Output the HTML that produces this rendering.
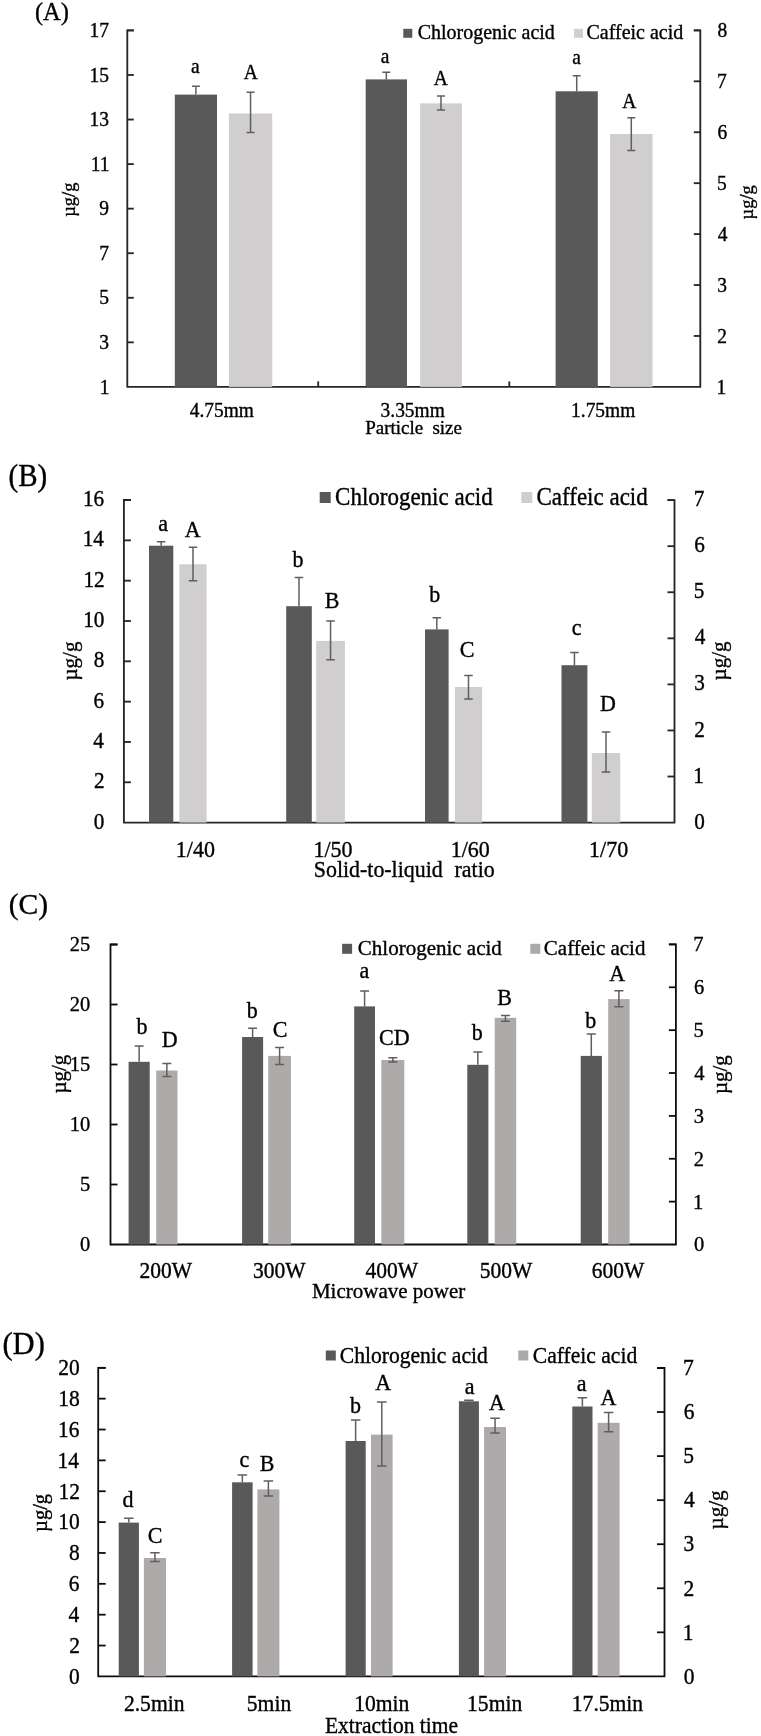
<!DOCTYPE html>
<html><head><meta charset="utf-8"><style>
html,body{margin:0;padding:0;background:#fff;}
body{width:761px;height:1736px;overflow:hidden;}
svg{display:block;font-family:"Liberation Serif", serif;will-change:transform;}
text{stroke:#000;stroke-width:0.35px;}
</style></head><body>
<svg width="761" height="1736" viewBox="0 0 761 1736">
<rect width="761" height="1736" fill="#fff"/>
<path d="M133.8 30.42 H127.3 V386.9 H700.3 V30.39 H693.8" stroke="#262626" stroke-width="1.85" fill="none"/>
<line x1="127.3" y1="30.42" x2="133.8" y2="30.42" stroke="#262626" stroke-width="1.85"/>
<text transform="translate(99.67 30.42) scale(1 1.03)" x="-10.29" y="6.44" font-size="19.5" fill="#000">17</text>
<line x1="127.3" y1="74.98" x2="133.8" y2="74.98" stroke="#262626" stroke-width="1.85"/>
<text transform="translate(99.77 74.98) scale(1 1.03)" x="-10.19" y="6.34" font-size="19.5" fill="#000">15</text>
<line x1="127.3" y1="119.54" x2="133.8" y2="119.54" stroke="#262626" stroke-width="1.85"/>
<text transform="translate(99.77 119.54) scale(1 1.03)" x="-10.19" y="6.34" font-size="19.5" fill="#000">13</text>
<line x1="127.3" y1="164.1" x2="133.8" y2="164.1" stroke="#262626" stroke-width="1.85"/>
<text transform="translate(100.3 164.1) scale(1 1.03)" x="-9.65" y="6.44" font-size="19.5" fill="#000">11</text>
<line x1="127.3" y1="208.66" x2="133.8" y2="208.66" stroke="#262626" stroke-width="1.85"/>
<text transform="translate(104.11 208.66) scale(1 1.03)" x="-4.78" y="6.34" font-size="19.5" fill="#000">9</text>
<line x1="127.3" y1="253.22" x2="133.8" y2="253.22" stroke="#262626" stroke-width="1.85"/>
<text transform="translate(104.35 253.22) scale(1 1.03)" x="-5.22" y="6.39" font-size="19.5" fill="#000">7</text>
<line x1="127.3" y1="297.78" x2="133.8" y2="297.78" stroke="#262626" stroke-width="1.85"/>
<text transform="translate(104.4 297.78) scale(1 1.03)" x="-5.07" y="6.29" font-size="19.5" fill="#000">5</text>
<line x1="127.3" y1="342.34" x2="133.8" y2="342.34" stroke="#262626" stroke-width="1.85"/>
<text transform="translate(104.25 342.34) scale(1 1.03)" x="-4.92" y="6.34" font-size="19.5" fill="#000">3</text>
<text transform="translate(104.84 386.9) scale(1 1.03)" x="-5.12" y="6.44" font-size="19.5" fill="#000">1</text>
<line x1="693.8" y1="30.39" x2="700.3" y2="30.39" stroke="#262626" stroke-width="1.85"/>
<text transform="translate(722.3 30.39) scale(1 1.03)" x="-4.88" y="6.39" font-size="19.5" fill="#000">8</text>
<line x1="693.8" y1="81.32" x2="700.3" y2="81.32" stroke="#262626" stroke-width="1.85"/>
<text transform="translate(722.15 81.32) scale(1 1.03)" x="-5.22" y="6.39" font-size="19.5" fill="#000">7</text>
<line x1="693.8" y1="132.25" x2="700.3" y2="132.25" stroke="#262626" stroke-width="1.85"/>
<text transform="translate(722.39 132.25) scale(1 1.03)" x="-4.97" y="6.34" font-size="19.5" fill="#000">6</text>
<line x1="693.8" y1="183.18" x2="700.3" y2="183.18" stroke="#262626" stroke-width="1.85"/>
<text transform="translate(722.1 183.18) scale(1 1.03)" x="-5.07" y="6.29" font-size="19.5" fill="#000">5</text>
<line x1="693.8" y1="234.11" x2="700.3" y2="234.11" stroke="#262626" stroke-width="1.85"/>
<text transform="translate(722.73 234.11) scale(1 1.03)" x="-4.92" y="6.44" font-size="19.5" fill="#000">4</text>
<line x1="693.8" y1="285.04" x2="700.3" y2="285.04" stroke="#262626" stroke-width="1.85"/>
<text transform="translate(722.25 285.04) scale(1 1.03)" x="-4.92" y="6.34" font-size="19.5" fill="#000">3</text>
<line x1="693.8" y1="335.97" x2="700.3" y2="335.97" stroke="#262626" stroke-width="1.85"/>
<text transform="translate(722.1 335.97) scale(1 1.03)" x="-4.78" y="6.44" font-size="19.5" fill="#000">2</text>
<text transform="translate(721.66 386.9) scale(1 1.03)" x="-5.12" y="6.44" font-size="19.5" fill="#000">1</text>
<line x1="318.2" y1="386.9" x2="318.2" y2="381.4" stroke="#262626" stroke-width="1.85"/>
<line x1="509.3" y1="386.9" x2="509.3" y2="381.4" stroke="#262626" stroke-width="1.85"/>
<rect x="174.8" y="94.6" width="42.2" height="292.3" fill="#595959"/>
<rect x="228.9" y="113.5" width="43.3" height="273.4" fill="#d0cece"/>
<path d="M195.9 94.6 V86.3 M191.9 86.3 H199.9" stroke="#5f5f5f" stroke-width="1.5" fill="none"/>
<path d="M246.55 92.3 H254.55 M250.55 92.3 V132.5 M246.55 132.5 H254.55" stroke="#5f5f5f" stroke-width="1.5" fill="none"/>
<rect x="365.7" y="79.4" width="41.3" height="307.5" fill="#595959"/>
<rect x="420.1" y="103.4" width="41.8" height="283.5" fill="#d0cece"/>
<path d="M386.35 79.4 V72.3 M382.35 72.3 H390.35" stroke="#5f5f5f" stroke-width="1.5" fill="none"/>
<path d="M437 96 H445 M441 96 V109.9 M437 109.9 H445" stroke="#5f5f5f" stroke-width="1.5" fill="none"/>
<rect x="555.6" y="91.3" width="42.2" height="295.6" fill="#595959"/>
<rect x="610.1" y="134" width="42.4" height="252.9" fill="#d0cece"/>
<path d="M576.7 91.3 V75.7 M572.7 75.7 H580.7" stroke="#5f5f5f" stroke-width="1.5" fill="none"/>
<path d="M627.3 117.8 H635.3 M631.3 117.8 V150.4 M627.3 150.4 H635.3" stroke="#5f5f5f" stroke-width="1.5" fill="none"/>
<text transform="translate(195.45 68.15) scale(1 1.03)" x="-4.53" y="4.48" font-size="19.5" fill="#000">a</text>
<text transform="translate(250.9 72.25) scale(1 1.03)" x="-7.07" y="6.44" font-size="19.5" fill="#000">A</text>
<text transform="translate(385.2 58.15) scale(1 1.03)" x="-4.53" y="4.48" font-size="19.5" fill="#000">a</text>
<text transform="translate(440.75 78.6) scale(1 1.03)" x="-7.07" y="6.44" font-size="19.5" fill="#000">A</text>
<text transform="translate(576.7 59.45) scale(1 1.03)" x="-4.53" y="4.48" font-size="19.5" fill="#000">a</text>
<text transform="translate(629.2 101.6) scale(1 1.03)" x="-7.07" y="6.44" font-size="19.5" fill="#000">A</text>
<rect x="403.3" y="28.8" width="9" height="9" fill="#595959"/>
<rect x="574" y="28.8" width="9" height="9" fill="#d0cece"/>
<text transform="translate(417.7 39) scale(1 1.03)" x="0" y="0" font-size="20" fill="#000">Chlorogenic acid</text>
<text transform="translate(586.5 39) scale(1 1.03)" x="0" y="0" font-size="20" fill="#000">Caffeic acid</text>
<text transform="translate(221.85 410.25) scale(1 1.03)" x="-32.16" y="6.26" font-size="19.4" fill="#000">4.75mm</text>
<text transform="translate(413 410.25) scale(1 1.03)" x="-32.4" y="6.26" font-size="19.4" fill="#000">3.35mm</text>
<text transform="translate(603.9 410.45) scale(1 1.03)" x="-32.79" y="6.26" font-size="19.4" fill="#000">1.75mm</text>
<text transform="translate(365.23 434.2) scale(1 1.03)" x="0" y="0" font-size="19" fill="#000">Particle</text>
<text transform="translate(432.44 434.2) scale(1 1.03)" x="0" y="0" font-size="19" fill="#000">size</text>
<text transform="translate(51.9 14.15) scale(1 1.03)" x="-17.03" y="5.88" font-size="24.5" fill="#000">(A)</text>
<text transform="translate(70.8 199.6) rotate(-90)" x="-17.25" y="4.12" font-size="18.5" fill="#000">µg/g</text>
<text transform="translate(749.2 202.2) rotate(-90)" x="-17.25" y="4.12" font-size="18.5" fill="#000">µg/g</text>
<path d="M130.9 500.04 H123.9 V822.6 H674.5 V500.11 H667.5" stroke="#262626" stroke-width="1.85" fill="none"/>
<line x1="123.9" y1="500.04" x2="130.9" y2="500.04" stroke="#262626" stroke-width="1.85"/>
<text transform="translate(94.12 498.54) scale(1 1.08)" x="-11.18" y="6.89" font-size="21.2" fill="#000">16</text>
<line x1="123.9" y1="540.36" x2="130.9" y2="540.36" stroke="#262626" stroke-width="1.85"/>
<text transform="translate(93.96 538.86) scale(1 1.08)" x="-11.34" y="7" font-size="21.2" fill="#000">14</text>
<line x1="123.9" y1="580.68" x2="130.9" y2="580.68" stroke="#262626" stroke-width="1.85"/>
<text transform="translate(94.38 579.18) scale(1 1.08)" x="-10.92" y="7" font-size="21.2" fill="#000">12</text>
<line x1="123.9" y1="621" x2="130.9" y2="621" stroke="#262626" stroke-width="1.85"/>
<text transform="translate(94.22 619.5) scale(1 1.08)" x="-11.08" y="6.94" font-size="21.2" fill="#000">10</text>
<line x1="123.9" y1="661.32" x2="130.9" y2="661.32" stroke="#262626" stroke-width="1.85"/>
<text transform="translate(99.05 659.82) scale(1 1.08)" x="-5.3" y="6.94" font-size="21.2" fill="#000">8</text>
<line x1="123.9" y1="701.64" x2="130.9" y2="701.64" stroke="#262626" stroke-width="1.85"/>
<text transform="translate(98.94 700.14) scale(1 1.08)" x="-5.41" y="6.89" font-size="21.2" fill="#000">6</text>
<line x1="123.9" y1="741.96" x2="130.9" y2="741.96" stroke="#262626" stroke-width="1.85"/>
<text transform="translate(98.57 740.46) scale(1 1.08)" x="-5.35" y="7" font-size="21.2" fill="#000">4</text>
<line x1="123.9" y1="782.28" x2="130.9" y2="782.28" stroke="#262626" stroke-width="1.85"/>
<text transform="translate(99.26 780.78) scale(1 1.08)" x="-5.19" y="7" font-size="21.2" fill="#000">2</text>
<text transform="translate(99.05 821.1) scale(1 1.08)" x="-5.3" y="6.94" font-size="21.2" fill="#000">0</text>
<line x1="667.5" y1="500.11" x2="674.5" y2="500.11" stroke="#262626" stroke-width="1.85"/>
<text transform="translate(699.39 498.61) scale(1 1.08)" x="-5.67" y="6.94" font-size="21.2" fill="#000">7</text>
<line x1="667.5" y1="546.18" x2="674.5" y2="546.18" stroke="#262626" stroke-width="1.85"/>
<text transform="translate(699.66 544.68) scale(1 1.08)" x="-5.41" y="6.89" font-size="21.2" fill="#000">6</text>
<line x1="667.5" y1="592.25" x2="674.5" y2="592.25" stroke="#262626" stroke-width="1.85"/>
<text transform="translate(699.34 590.75) scale(1 1.08)" x="-5.51" y="6.84" font-size="21.2" fill="#000">5</text>
<line x1="667.5" y1="638.32" x2="674.5" y2="638.32" stroke="#262626" stroke-width="1.85"/>
<text transform="translate(700.03 636.82) scale(1 1.08)" x="-5.35" y="7" font-size="21.2" fill="#000">4</text>
<line x1="667.5" y1="684.39" x2="674.5" y2="684.39" stroke="#262626" stroke-width="1.85"/>
<text transform="translate(699.5 682.89) scale(1 1.08)" x="-5.35" y="6.89" font-size="21.2" fill="#000">3</text>
<line x1="667.5" y1="730.46" x2="674.5" y2="730.46" stroke="#262626" stroke-width="1.85"/>
<text transform="translate(699.34 728.96) scale(1 1.08)" x="-5.19" y="7" font-size="21.2" fill="#000">2</text>
<line x1="667.5" y1="776.53" x2="674.5" y2="776.53" stroke="#262626" stroke-width="1.85"/>
<text transform="translate(698.86 775.03) scale(1 1.08)" x="-5.57" y="7" font-size="21.2" fill="#000">1</text>
<text transform="translate(699.55 821.1) scale(1 1.08)" x="-5.3" y="6.94" font-size="21.2" fill="#000">0</text>
<rect x="149" y="545.7" width="24.3" height="276.9" fill="#595959"/>
<rect x="179.4" y="564.3" width="27.2" height="258.3" fill="#d0cece"/>
<path d="M161.15 545.7 V541.8 M156.9 541.8 H165.4" stroke="#5f5f5f" stroke-width="1.5" fill="none"/>
<path d="M188.75 547.3 H197.25 M193 547.3 V580.7 M188.75 580.7 H197.25" stroke="#5f5f5f" stroke-width="1.5" fill="none"/>
<rect x="286.2" y="606.2" width="25.6" height="216.4" fill="#595959"/>
<rect x="316.2" y="640.9" width="28.7" height="181.7" fill="#d0cece"/>
<path d="M299 606.2 V577.5 M294.75 577.5 H303.25" stroke="#5f5f5f" stroke-width="1.5" fill="none"/>
<path d="M326.3 621 H334.8 M330.55 621 V659.8 M326.3 659.8 H334.8" stroke="#5f5f5f" stroke-width="1.5" fill="none"/>
<rect x="425" y="629.4" width="23.6" height="193.2" fill="#595959"/>
<rect x="454.9" y="687" width="27.2" height="135.6" fill="#d0cece"/>
<path d="M436.8 629.4 V617.8 M432.55 617.8 H441.05" stroke="#5f5f5f" stroke-width="1.5" fill="none"/>
<path d="M464.25 675.6 H472.75 M468.5 675.6 V699 M464.25 699 H472.75" stroke="#5f5f5f" stroke-width="1.5" fill="none"/>
<rect x="561.5" y="665.2" width="25.9" height="157.4" fill="#595959"/>
<rect x="591.8" y="753" width="28.4" height="69.6" fill="#d0cece"/>
<path d="M574.45 665.2 V652.6 M570.2 652.6 H578.7" stroke="#5f5f5f" stroke-width="1.5" fill="none"/>
<path d="M601.75 731.9 H610.25 M606 731.9 V772.1 M601.75 772.1 H610.25" stroke="#5f5f5f" stroke-width="1.5" fill="none"/>
<text transform="translate(163.25 525.6) scale(1 1.08)" x="-5.11" y="5.06" font-size="22" fill="#000">a</text>
<text transform="translate(192.8 529.2) scale(1 1.08)" x="-7.97" y="7.26" font-size="22" fill="#000">A</text>
<text transform="translate(297.45 559.2) scale(1 1.08)" x="-5.06" y="7.53" font-size="22" fill="#000">b</text>
<text transform="translate(331.9 600.6) scale(1 1.08)" x="-7.15" y="7.15" font-size="22" fill="#000">B</text>
<text transform="translate(434.25 593.65) scale(1 1.08)" x="-5.06" y="7.53" font-size="22" fill="#000">b</text>
<text transform="translate(467 648.85) scale(1 1.08)" x="-7.15" y="7.15" font-size="22" fill="#000">C</text>
<text transform="translate(576.75 629.7) scale(1 1.08)" x="-5" y="5.06" font-size="22" fill="#000">c</text>
<text transform="translate(607.75 703) scale(1 1.08)" x="-7.87" y="7.21" font-size="22" fill="#000">D</text>
<rect x="319.7" y="492" width="11" height="11" fill="#595959"/>
<rect x="521.3" y="492" width="11" height="11" fill="#d0cece"/>
<text transform="translate(335.08 504.8) scale(1 1.08)" x="0" y="0" font-size="23" fill="#000">Chlorogenic acid</text>
<text transform="translate(536.48 504.8) scale(1 1.08)" x="0" y="0" font-size="23" fill="#000">Caffeic acid</text>
<text transform="translate(195.9 848.9) scale(1 1.08)" x="-20.07" y="7.21" font-size="22" fill="#000">1/40</text>
<text transform="translate(333.55 849.45) scale(1 1.08)" x="-20.07" y="7.21" font-size="22" fill="#000">1/50</text>
<text transform="translate(470.8 849.45) scale(1 1.08)" x="-20.07" y="7.21" font-size="22" fill="#000">1/60</text>
<text transform="translate(609.1 849.45) scale(1 1.08)" x="-20.07" y="7.21" font-size="22" fill="#000">1/70</text>
<text transform="translate(313.78 876.8) scale(1 1.08)" x="0" y="0" font-size="21.9" fill="#000">Solid-to-liquid</text>
<text transform="translate(454.56 876.8) scale(1 1.08)" x="0" y="0" font-size="21.9" fill="#000">ratio</text>
<text transform="translate(27.9 478.2) scale(1 1.08)" x="-19.36" y="6.96" font-size="29" fill="#000">(B)</text>
<text transform="translate(72.1 660.9) rotate(-90)" x="-19.58" y="4.67" font-size="21" fill="#000">µg/g</text>
<text transform="translate(721.4 660.8) rotate(-90)" x="-19.58" y="4.67" font-size="21" fill="#000">µg/g</text>
<path d="M117.5 944.5 H110.5 V1244.5 H675.9 V944.41 H668.9" stroke="#0d0d0d" stroke-width="1.8" fill="none"/>
<line x1="110.5" y1="944.5" x2="117.5" y2="944.5" stroke="#0d0d0d" stroke-width="1.8"/>
<text transform="translate(80.12 944.5) scale(1 1.03)" x="-10.3" y="6.66" font-size="20.5" fill="#000">25</text>
<line x1="110.5" y1="1004.5" x2="117.5" y2="1004.5" stroke="#0d0d0d" stroke-width="1.8"/>
<text transform="translate(80.12 1004.5) scale(1 1.03)" x="-10.3" y="6.71" font-size="20.5" fill="#000">20</text>
<line x1="110.5" y1="1064.5" x2="117.5" y2="1064.5" stroke="#0d0d0d" stroke-width="1.8"/>
<text transform="translate(80.53 1064.5) scale(1 1.03)" x="-10.71" y="6.66" font-size="20.5" fill="#000">15</text>
<line x1="110.5" y1="1124.5" x2="117.5" y2="1124.5" stroke="#0d0d0d" stroke-width="1.8"/>
<text transform="translate(80.53 1124.5) scale(1 1.03)" x="-10.71" y="6.71" font-size="20.5" fill="#000">10</text>
<line x1="110.5" y1="1184.5" x2="117.5" y2="1184.5" stroke="#0d0d0d" stroke-width="1.8"/>
<text transform="translate(85.4 1184.5) scale(1 1.03)" x="-5.33" y="6.61" font-size="20.5" fill="#000">5</text>
<text transform="translate(85.19 1244.5) scale(1 1.03)" x="-5.12" y="6.71" font-size="20.5" fill="#000">0</text>
<line x1="668.9" y1="944.41" x2="675.9" y2="944.41" stroke="#0d0d0d" stroke-width="1.8"/>
<text transform="translate(698.85 944.41) scale(1 1.03)" x="-5.48" y="6.71" font-size="20.5" fill="#000">7</text>
<line x1="668.9" y1="987.28" x2="675.9" y2="987.28" stroke="#0d0d0d" stroke-width="1.8"/>
<text transform="translate(699.11 987.28) scale(1 1.03)" x="-5.23" y="6.66" font-size="20.5" fill="#000">6</text>
<line x1="668.9" y1="1030.15" x2="675.9" y2="1030.15" stroke="#0d0d0d" stroke-width="1.8"/>
<text transform="translate(698.8 1030.15) scale(1 1.03)" x="-5.33" y="6.61" font-size="20.5" fill="#000">5</text>
<line x1="668.9" y1="1073.02" x2="675.9" y2="1073.02" stroke="#0d0d0d" stroke-width="1.8"/>
<text transform="translate(699.47 1073.02) scale(1 1.03)" x="-5.18" y="6.77" font-size="20.5" fill="#000">4</text>
<line x1="668.9" y1="1115.89" x2="675.9" y2="1115.89" stroke="#0d0d0d" stroke-width="1.8"/>
<text transform="translate(698.95 1115.89) scale(1 1.03)" x="-5.18" y="6.66" font-size="20.5" fill="#000">3</text>
<line x1="668.9" y1="1158.76" x2="675.9" y2="1158.76" stroke="#0d0d0d" stroke-width="1.8"/>
<text transform="translate(698.8 1158.76) scale(1 1.03)" x="-5.02" y="6.77" font-size="20.5" fill="#000">2</text>
<line x1="668.9" y1="1201.63" x2="675.9" y2="1201.63" stroke="#0d0d0d" stroke-width="1.8"/>
<text transform="translate(698.34 1201.63) scale(1 1.03)" x="-5.38" y="6.77" font-size="20.5" fill="#000">1</text>
<text transform="translate(699 1244.5) scale(1 1.03)" x="-5.12" y="6.71" font-size="20.5" fill="#000">0</text>
<rect x="128.6" y="1061.8" width="21.1" height="182.7" fill="#595959"/>
<rect x="156.2" y="1070.5" width="21.3" height="174" fill="#aeaaaa"/>
<path d="M139.15 1061.8 V1046 M134.65 1046 H143.65" stroke="#5f5f5f" stroke-width="1.5" fill="none"/>
<path d="M162.35 1063.5 H171.35 M166.85 1063.5 V1076.5 M162.35 1076.5 H171.35" stroke="#5f5f5f" stroke-width="1.5" fill="none"/>
<rect x="242.1" y="1037" width="21" height="207.5" fill="#595959"/>
<rect x="268.2" y="1055.9" width="22.8" height="188.6" fill="#aeaaaa"/>
<path d="M252.6 1037 V1028.3 M248.1 1028.3 H257.1" stroke="#5f5f5f" stroke-width="1.5" fill="none"/>
<path d="M275.1 1047.6 H284.1 M279.6 1047.6 V1064.6 M275.1 1064.6 H284.1" stroke="#5f5f5f" stroke-width="1.5" fill="none"/>
<rect x="354.2" y="1006.4" width="20.8" height="238.1" fill="#595959"/>
<rect x="381.3" y="1060" width="23" height="184.5" fill="#aeaaaa"/>
<path d="M364.6 1006.4 V991 M360.1 991 H369.1" stroke="#5f5f5f" stroke-width="1.5" fill="none"/>
<path d="M388.3 1057.7 H397.3 M392.8 1057.7 V1062 M388.3 1062 H397.3" stroke="#5f5f5f" stroke-width="1.5" fill="none"/>
<rect x="467.3" y="1064.8" width="21.1" height="179.7" fill="#595959"/>
<rect x="494.7" y="1017.8" width="21.5" height="226.7" fill="#aeaaaa"/>
<path d="M477.85 1064.8 V1052.1 M473.35 1052.1 H482.35" stroke="#5f5f5f" stroke-width="1.5" fill="none"/>
<path d="M500.95 1015.5 H509.95 M505.45 1015.5 V1021.3 M500.95 1021.3 H509.95" stroke="#5f5f5f" stroke-width="1.5" fill="none"/>
<rect x="580.7" y="1055.9" width="21.2" height="188.6" fill="#595959"/>
<rect x="608.2" y="999.1" width="21.4" height="245.4" fill="#aeaaaa"/>
<path d="M591.3 1055.9 V1034.1 M586.8 1034.1 H595.8" stroke="#5f5f5f" stroke-width="1.5" fill="none"/>
<path d="M614.4 990.7 H623.4 M618.9 990.7 V1006.8 M614.4 1006.8 H623.4" stroke="#5f5f5f" stroke-width="1.5" fill="none"/>
<text transform="translate(141.55 1026) scale(1 1.03)" x="-5.06" y="7.53" font-size="22" fill="#000">b</text>
<text transform="translate(169.5 1039.25) scale(1 1.03)" x="-7.87" y="7.21" font-size="22" fill="#000">D</text>
<text transform="translate(251.7 1009.95) scale(1 1.03)" x="-5.06" y="7.53" font-size="22" fill="#000">b</text>
<text transform="translate(280 1029.25) scale(1 1.03)" x="-7.15" y="7.15" font-size="22" fill="#000">C</text>
<text transform="translate(364.65 973.05) scale(1 1.03)" x="-5.11" y="5.06" font-size="22" fill="#000">a</text>
<text transform="translate(394.25 1037.9) scale(1 1.03)" x="-15.29" y="7.15" font-size="22" fill="#000">CD</text>
<text transform="translate(476.85 1032.1) scale(1 1.03)" x="-5.06" y="7.53" font-size="22" fill="#000">b</text>
<text transform="translate(504.3 997.2) scale(1 1.03)" x="-7.15" y="7.15" font-size="22" fill="#000">B</text>
<text transform="translate(590.35 1020.3) scale(1 1.03)" x="-5.06" y="7.53" font-size="22" fill="#000">b</text>
<text transform="translate(617.3 973.4) scale(1 1.03)" x="-7.97" y="7.26" font-size="22" fill="#000">A</text>
<rect x="342.1" y="943.8" width="10" height="10" fill="#595959"/>
<rect x="530.3" y="943.8" width="10" height="10" fill="#aeaaaa"/>
<text transform="translate(357.86 954.9) scale(1 1.03)" x="0" y="0" font-size="21" fill="#000">Chlorogenic acid</text>
<text transform="translate(543.86 954.9) scale(1 1.03)" x="0" y="0" font-size="21" fill="#000">Caffeic acid</text>
<text transform="translate(166.1 1270.95) scale(1 1.03)" x="-26.71" y="6.99" font-size="21.5" fill="#000">200W</text>
<text transform="translate(279.65 1270.95) scale(1 1.03)" x="-26.71" y="6.99" font-size="21.5" fill="#000">300W</text>
<text transform="translate(391.9 1270.95) scale(1 1.03)" x="-26.45" y="6.99" font-size="21.5" fill="#000">400W</text>
<text transform="translate(506.7 1270.95) scale(1 1.03)" x="-26.88" y="6.99" font-size="21.5" fill="#000">500W</text>
<text transform="translate(618.4 1270.95) scale(1 1.03)" x="-26.66" y="6.99" font-size="21.5" fill="#000">600W</text>
<text transform="translate(311.97 1297.9) scale(1 1.03)" x="0" y="0" font-size="21" fill="#000">Microwave power</text>
<text transform="translate(28.4 906.5) scale(1 1.03)" x="-19.69" y="7.08" font-size="29.5" fill="#000">(C)</text>
<text transform="translate(61 1074) rotate(-90)" x="-19.58" y="4.67" font-size="21" fill="#000">µg/g</text>
<text transform="translate(721.9 1074.5) rotate(-90)" x="-19.58" y="4.67" font-size="21" fill="#000">µg/g</text>
<path d="M105.7 1367.8 H98.2 V1676.4 H664.5 V1367.98 H657" stroke="#0d0d0d" stroke-width="1.8" fill="none"/>
<line x1="98.2" y1="1367.8" x2="105.7" y2="1367.8" stroke="#0d0d0d" stroke-width="1.8"/>
<text transform="translate(68.96 1367.8) scale(1 1.03)" x="-10.8" y="7.04" font-size="21.5" fill="#000">20</text>
<line x1="98.2" y1="1398.66" x2="105.7" y2="1398.66" stroke="#0d0d0d" stroke-width="1.8"/>
<text transform="translate(69.39 1398.66) scale(1 1.03)" x="-11.23" y="7.04" font-size="21.5" fill="#000">18</text>
<line x1="98.2" y1="1429.52" x2="105.7" y2="1429.52" stroke="#0d0d0d" stroke-width="1.8"/>
<text transform="translate(69.29 1429.52) scale(1 1.03)" x="-11.34" y="6.99" font-size="21.5" fill="#000">16</text>
<line x1="98.2" y1="1460.38" x2="105.7" y2="1460.38" stroke="#0d0d0d" stroke-width="1.8"/>
<text transform="translate(69.12 1460.38) scale(1 1.03)" x="-11.5" y="7.1" font-size="21.5" fill="#000">14</text>
<line x1="98.2" y1="1491.24" x2="105.7" y2="1491.24" stroke="#0d0d0d" stroke-width="1.8"/>
<text transform="translate(69.55 1491.24) scale(1 1.03)" x="-11.07" y="7.1" font-size="21.5" fill="#000">12</text>
<line x1="98.2" y1="1522.1" x2="105.7" y2="1522.1" stroke="#0d0d0d" stroke-width="1.8"/>
<text transform="translate(69.39 1522.1) scale(1 1.03)" x="-11.23" y="7.04" font-size="21.5" fill="#000">10</text>
<line x1="98.2" y1="1552.96" x2="105.7" y2="1552.96" stroke="#0d0d0d" stroke-width="1.8"/>
<text transform="translate(74.28 1552.96) scale(1 1.03)" x="-5.38" y="7.04" font-size="21.5" fill="#000">8</text>
<line x1="98.2" y1="1583.82" x2="105.7" y2="1583.82" stroke="#0d0d0d" stroke-width="1.8"/>
<text transform="translate(74.18 1583.82) scale(1 1.03)" x="-5.48" y="6.99" font-size="21.5" fill="#000">6</text>
<line x1="98.2" y1="1614.68" x2="105.7" y2="1614.68" stroke="#0d0d0d" stroke-width="1.8"/>
<text transform="translate(73.8 1614.68) scale(1 1.03)" x="-5.43" y="7.1" font-size="21.5" fill="#000">4</text>
<line x1="98.2" y1="1645.54" x2="105.7" y2="1645.54" stroke="#0d0d0d" stroke-width="1.8"/>
<text transform="translate(74.5 1645.54) scale(1 1.03)" x="-5.27" y="7.1" font-size="21.5" fill="#000">2</text>
<text transform="translate(74.28 1676.4) scale(1 1.03)" x="-5.38" y="7.04" font-size="21.5" fill="#000">0</text>
<line x1="657" y1="1367.98" x2="664.5" y2="1367.98" stroke="#0d0d0d" stroke-width="1.8"/>
<text transform="translate(688.85 1367.98) scale(1 1.03)" x="-5.75" y="7.04" font-size="21.5" fill="#000">7</text>
<line x1="657" y1="1412.04" x2="664.5" y2="1412.04" stroke="#0d0d0d" stroke-width="1.8"/>
<text transform="translate(689.12 1412.04) scale(1 1.03)" x="-5.48" y="6.99" font-size="21.5" fill="#000">6</text>
<line x1="657" y1="1456.1" x2="664.5" y2="1456.1" stroke="#0d0d0d" stroke-width="1.8"/>
<text transform="translate(688.8 1456.1) scale(1 1.03)" x="-5.59" y="6.93" font-size="21.5" fill="#000">5</text>
<line x1="657" y1="1500.16" x2="664.5" y2="1500.16" stroke="#0d0d0d" stroke-width="1.8"/>
<text transform="translate(689.5 1500.16) scale(1 1.03)" x="-5.43" y="7.1" font-size="21.5" fill="#000">4</text>
<line x1="657" y1="1544.22" x2="664.5" y2="1544.22" stroke="#0d0d0d" stroke-width="1.8"/>
<text transform="translate(688.96 1544.22) scale(1 1.03)" x="-5.43" y="6.99" font-size="21.5" fill="#000">3</text>
<line x1="657" y1="1588.28" x2="664.5" y2="1588.28" stroke="#0d0d0d" stroke-width="1.8"/>
<text transform="translate(688.8 1588.28) scale(1 1.03)" x="-5.27" y="7.1" font-size="21.5" fill="#000">2</text>
<line x1="657" y1="1632.34" x2="664.5" y2="1632.34" stroke="#0d0d0d" stroke-width="1.8"/>
<text transform="translate(688.32 1632.34) scale(1 1.03)" x="-5.64" y="7.1" font-size="21.5" fill="#000">1</text>
<text transform="translate(689.01 1676.4) scale(1 1.03)" x="-5.38" y="7.04" font-size="21.5" fill="#000">0</text>
<rect x="118.7" y="1522.6" width="20.2" height="153.8" fill="#595959"/>
<rect x="143.9" y="1558" width="22.1" height="118.4" fill="#aeaaaa"/>
<path d="M128.8 1522.6 V1518.2 M124.05 1518.2 H133.55" stroke="#5f5f5f" stroke-width="1.5" fill="none"/>
<path d="M150.2 1552.8 H159.7 M154.95 1552.8 V1561.5 M150.2 1561.5 H159.7" stroke="#5f5f5f" stroke-width="1.5" fill="none"/>
<rect x="232.1" y="1482.3" width="20.5" height="194.1" fill="#595959"/>
<rect x="257.4" y="1489.4" width="22" height="187" fill="#aeaaaa"/>
<path d="M242.35 1482.3 V1474.9 M237.6 1474.9 H247.1" stroke="#5f5f5f" stroke-width="1.5" fill="none"/>
<path d="M263.65 1481.1 H273.15 M268.4 1481.1 V1496 M263.65 1496 H273.15" stroke="#5f5f5f" stroke-width="1.5" fill="none"/>
<rect x="345.6" y="1441" width="20.1" height="235.4" fill="#595959"/>
<rect x="371" y="1434.6" width="21.6" height="241.8" fill="#aeaaaa"/>
<path d="M355.65 1441 V1420.1 M350.9 1420.1 H360.4" stroke="#5f5f5f" stroke-width="1.5" fill="none"/>
<path d="M377.05 1402 H386.55 M381.8 1402 V1465.9 M377.05 1465.9 H386.55" stroke="#5f5f5f" stroke-width="1.5" fill="none"/>
<rect x="458.9" y="1401.3" width="20" height="275.1" fill="#595959"/>
<rect x="484.1" y="1427" width="21.9" height="249.4" fill="#aeaaaa"/>
<path d="M468.9 1401.3 V1400.3 M464.15 1400.3 H473.65" stroke="#5f5f5f" stroke-width="1.5" fill="none"/>
<path d="M490.3 1418.3 H499.8 M495.05 1418.3 V1433 M490.3 1433 H499.8" stroke="#5f5f5f" stroke-width="1.5" fill="none"/>
<rect x="572.3" y="1406.5" width="20.2" height="269.9" fill="#595959"/>
<rect x="597.6" y="1422.8" width="22" height="253.6" fill="#aeaaaa"/>
<path d="M582.4 1406.5 V1397.8 M577.65 1397.8 H587.15" stroke="#5f5f5f" stroke-width="1.5" fill="none"/>
<path d="M603.85 1412.5 H613.35 M608.6 1412.5 V1431.7 M603.85 1431.7 H613.35" stroke="#5f5f5f" stroke-width="1.5" fill="none"/>
<text transform="translate(128.15 1499.3) scale(1 1.03)" x="-5.78" y="7.53" font-size="22" fill="#000">d</text>
<text transform="translate(154.9 1535.2) scale(1 1.03)" x="-7.15" y="7.15" font-size="22" fill="#000">C</text>
<text transform="translate(244.6 1461.85) scale(1 1.03)" x="-5" y="5.06" font-size="22" fill="#000">c</text>
<text transform="translate(266.9 1463.4) scale(1 1.03)" x="-7.15" y="7.15" font-size="22" fill="#000">B</text>
<text transform="translate(355.1 1405.1) scale(1 1.03)" x="-5.06" y="7.53" font-size="22" fill="#000">b</text>
<text transform="translate(383.1 1382.85) scale(1 1.03)" x="-7.97" y="7.26" font-size="22" fill="#000">A</text>
<text transform="translate(469.9 1388.35) scale(1 1.03)" x="-5.11" y="5.06" font-size="22" fill="#000">a</text>
<text transform="translate(496.85 1402.45) scale(1 1.03)" x="-7.97" y="7.26" font-size="22" fill="#000">A</text>
<text transform="translate(581.8 1385.6) scale(1 1.03)" x="-5.11" y="5.06" font-size="22" fill="#000">a</text>
<text transform="translate(608.45 1398) scale(1 1.03)" x="-7.97" y="7.26" font-size="22" fill="#000">A</text>
<rect x="325.8" y="1350.5" width="10" height="10" fill="#595959"/>
<rect x="518.3" y="1350.5" width="10" height="10" fill="#aeaaaa"/>
<text transform="translate(339.74 1362.7) scale(1 1.03)" x="0" y="0" font-size="21.6" fill="#000">Chlorogenic acid</text>
<text transform="translate(532.74 1362.7) scale(1 1.03)" x="0" y="0" font-size="21.6" fill="#000">Caffeic acid</text>
<text transform="translate(154.55 1703.65) scale(1 1.03)" x="-30.62" y="6.97" font-size="21.6" fill="#000">2.5min</text>
<text transform="translate(269.5 1703.65) scale(1 1.03)" x="-22.68" y="7.02" font-size="21.6" fill="#000">5min</text>
<text transform="translate(382.55 1703.65) scale(1 1.03)" x="-28.35" y="7.07" font-size="21.6" fill="#000">10min</text>
<text transform="translate(495.4 1703.65) scale(1 1.03)" x="-28.35" y="7.02" font-size="21.6" fill="#000">15min</text>
<text transform="translate(608.25 1703.65) scale(1 1.03)" x="-36.45" y="6.97" font-size="21.6" fill="#000">17.5min</text>
<text transform="translate(324.96 1733) scale(1 1.03)" x="0" y="0" font-size="21.5" fill="#000">Extraction time</text>
<text transform="translate(23.65 1346.9) scale(1 1.03)" x="-21.2" y="7.32" font-size="30.5" fill="#000">(D)</text>
<text transform="translate(42.6 1512.8) rotate(-90)" x="-19.12" y="4.56" font-size="20.5" fill="#000">µg/g</text>
<text transform="translate(717.9 1509.8) rotate(-90)" x="-19.77" y="4.72" font-size="21.2" fill="#000">µg/g</text>
</svg>
</body></html>
